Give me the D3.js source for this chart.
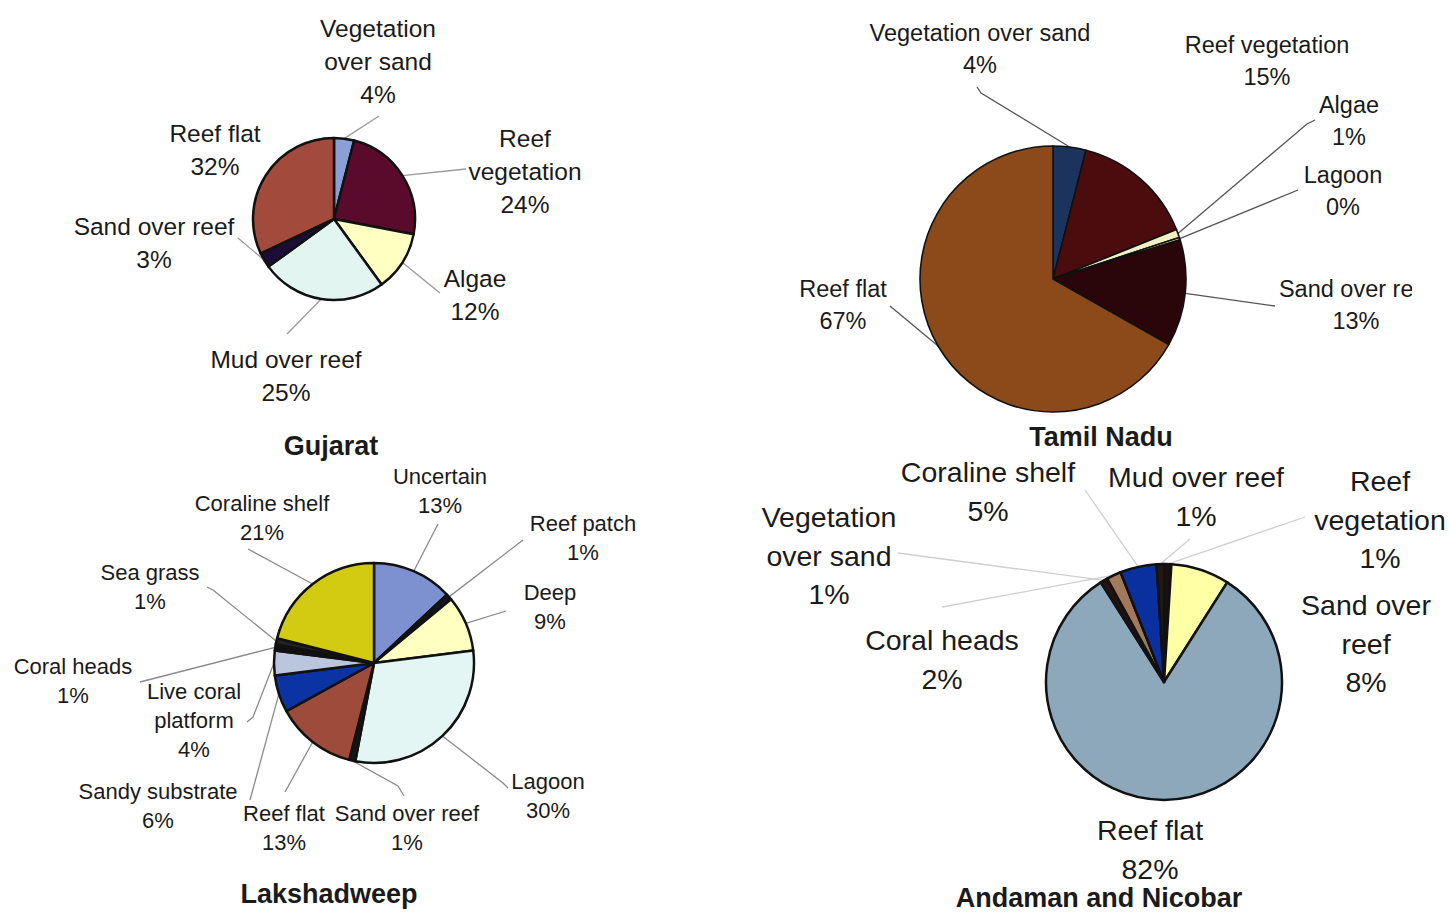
<!DOCTYPE html>
<html>
<head>
<meta charset="utf-8">
<script src="https://cdn.jsdelivr.net/npm/d3@7"></script>
<style>
  body { margin: 0; background: #fff; }
  svg text { font-family: "Liberation Sans", Arial, sans-serif; fill: #1a1a1a; }
</style>
</head>
<body>
<svg id="chart" width="1449" height="914"></svg>
<script>
// data (percent of reef area)
const gujaratCats = ["Vegetation over sand", "Reef vegetation", "Algae", "Mud over reef", "Sand over reef", "Reef flat"];
const gujaratVals = [4, 24, 12, 25, 3, 32];

const tamilCats = ["Vegetation over sand", "Reef vegetation", "Algae", "Lagoon", "Sand over reef", "Reef flat"];
const tamilVals = [4, 15, 1, 0.3, 13, 67];

const lakshCats = ["Uncertain", "Reef patch", "Deep", "Lagoon", "Sand over reef", "Reef flat",
  "Sandy substrate", "Live coral platform", "Coral heads", "Sea grass", "Coraline shelf"];
const lakshVals = [13, 1, 9, 30, 1, 13, 6, 4, 1, 1, 21];

const andamanCats = ["Reef vegetation", "Sand over reef", "Reef flat", "Vegetation over sand",
  "Coral heads", "Coraline shelf", "Mud over reef"];
const andamanVals = [1, 8, 82, 1, 2, 5, 1];

const titles = ["Gujarat", "Tamil Nadu", "Lakshadweep", "Andaman and Nicobar"];

// slice colours
const gujaratColors = ["#8b9ed6", "#5a0b2c", "#ffffc2", "#e2f5f1", "#1c0c38", "#a24b3c"];
const tamilColors = ["#1c335e", "#4a0c0c", "#f2efc4", "#f2efc4", "#2a0509", "#8c4a1a"];
const lakshColors = ["#7d90cf", "#151515", "#ffffc2", "#e4f6f3", "#151515", "#9e4b3b",
  "#0b33a3", "#b9c6de", "#111111", "#222222", "#d3cb12"];
const andamanColors = ["#1a1010", "#ffffa6", "#8da7bb", "#2a1010", "#a27a5a", "#0a30a0", "#241812"];

// label layout: text centre, wrapped name, leader bend points (pixels)
const gujaratLabels = [
  { x: 378, y: 28, wrap: ["Vegetation", "over sand"], lead: [[379, 116]] },
  { x: 525, y: 138, wrap: ["Reef", "vegetation"], lead: [[466, 169]] },
  { x: 475, y: 278, wrap: ["Algae"], lead: [[440, 293]] },
  { x: 286, y: 359, wrap: ["Mud over reef"], lead: [[287, 334]] },
  { x: 154, y: 226, wrap: ["Sand over reef"], lead: [[238, 238]] },
  { x: 215, y: 133, wrap: ["Reef flat"], lead: null }
];
const tamilLabels = [
  { x: 980, y: 33, wrap: ["Vegetation over sand"], lead: [[977, 87], [981, 93]] },
  { x: 1267, y: 45, wrap: ["Reef vegetation"], lead: null },
  { x: 1349, y: 105, wrap: ["Algae"], lead: [[1315, 120], [1307, 124]] },
  { x: 1343, y: 175, wrap: ["Lagoon"], lead: [[1298, 190]] },
  { x: 1356, y: 289, wrap: ["Sand over reef"], lead: [[1275, 306]], clip: 1412 },
  { x: 843, y: 289, wrap: ["Reef flat"], lead: [[890, 306]] }
];
const lakshLabels = [
  { x: 440, y: 476, wrap: ["Uncertain"], lead: [[438, 524]] },
  { x: 583, y: 523, wrap: ["Reef patch"], lead: [[523, 540]] },
  { x: 550, y: 592, wrap: ["Deep"], lead: [[506, 611]] },
  { x: 548, y: 781, wrap: ["Lagoon"], lead: [[508, 788], [503, 783]] },
  { x: 407, y: 813, wrap: ["Sand over reef"], lead: [[404, 796], [398, 786]] },
  { x: 284, y: 813, wrap: ["Reef flat"], lead: [[285, 792]] },
  { x: 158, y: 791, wrap: ["Sandy substrate"], lead: [[250, 800]] },
  { x: 194, y: 691, wrap: ["Live coral", "platform"], lead: [[247, 722], [253, 717]] },
  { x: 73, y: 666, wrap: ["Coral heads"], lead: [[140, 682]] },
  { x: 150, y: 572, wrap: ["Sea grass"], lead: [[207, 587], [213, 590]] },
  { x: 262, y: 503, wrap: ["Coraline shelf"], lead: [[248, 549]] }
];
const andamanLabels = [
  { x: 1380, y: 481, wrap: ["Reef", "vegetation"], lead: [[1305, 517]] },
  { x: 1366, y: 605, wrap: ["Sand over", "reef"], lead: null },
  { x: 1150, y: 830, wrap: ["Reef flat"], lead: null },
  { x: 829, y: 517, wrap: ["Vegetation", "over sand"], lead: [[898, 553]] },
  { x: 942, y: 640, wrap: ["Coral heads"], lead: [[942, 607]] },
  { x: 988, y: 472, wrap: ["Coraline shelf"], lead: [[1085, 490]] },
  { x: 1196, y: 477, wrap: ["Mud over reef"], lead: [[1190, 539]] }
];

const charts = [
  { cats: gujaratCats, vals: gujaratVals, colors: gujaratColors, labels: gujaratLabels,
    cx: 334, cy: 219, r: 81, fs: 24.5, lh: 33, sw: 2.5, lc: "#9a9a9a", tx: 331, ty: 455 },
  { cats: tamilCats, vals: tamilVals, colors: tamilColors, labels: tamilLabels,
    cx: 1053, cy: 279, r: 133, fs: 23.5, lh: 32, sw: 1.6, lc: "#555", tx: 1101, ty: 446 },
  { cats: lakshCats, vals: lakshVals, colors: lakshColors, labels: lakshLabels,
    cx: 374, cy: 663, r: 100, fs: 22, lh: 29, sw: 2.5, lc: "#8a8a8a", tx: 329, ty: 903 },
  { cats: andamanCats, vals: andamanVals, colors: andamanColors, labels: andamanLabels,
    cx: 1164, cy: 682, r: 118, fs: 28.5, lh: 38.5, sw: 2.5, lc: "#cfcfcf", tx: 1099, ty: 907 }
];

const svg = d3.select("#chart");
const pct = d3.format(".0f");

charts.forEach(function(c, ci) {
  const pie = d3.pie().sort(null).value(d => d)(c.vals);
  const arc = d3.arc().innerRadius(0).outerRadius(c.r);
  const g = svg.append("g");

  // leader lines first, pie drawn over their ends
  c.labels.forEach(function(lab, i) {
    if (!lab.lead) return;
    const p = pie[i];
    const a = (p.startAngle + p.endAngle) / 2;
    const pts = lab.lead.concat([[c.cx + c.r * Math.sin(a), c.cy - c.r * Math.cos(a)]]);
    g.append("path")
      .attr("d", d3.line()(pts))
      .attr("fill", "none")
      .attr("stroke", c.lc)
      .attr("stroke-width", 1.3);
  });

  g.append("g")
    .attr("transform", `translate(${c.cx},${c.cy})`)
    .selectAll("path")
    .data(pie)
    .enter().append("path")
    .attr("d", arc)
    .attr("fill", (d, i) => c.colors[i])
    .attr("stroke", "#111")
    .attr("stroke-width", c.sw)
    .attr("stroke-linejoin", "round");

  c.labels.forEach(function(lab, i) {
    const lines = lab.wrap.concat([pct(c.vals[i]) + "%"]);
    const t = g.append("text")
      .attr("text-anchor", "middle")
      .style("font-size", c.fs + "px");
    if (lab.clip) {
      const id = "clip" + ci + "_" + i;
      svg.append("clipPath").attr("id", id)
        .append("rect").attr("x", 0).attr("y", 0).attr("width", lab.clip).attr("height", 914);
      t.attr("clip-path", `url(#${id})`);
    }
    lines.forEach(function(s, k) {
      t.append("tspan")
        .attr("x", lab.x)
        .attr("y", lab.y + k * c.lh + c.fs * 0.36)
        .text(s);
    });
  });

  g.append("text")
    .attr("x", c.tx)
    .attr("y", c.ty)
    .attr("text-anchor", "middle")
    .style("font-size", "27px")
    .style("font-weight", "bold")
    .text(titles[ci]);
});
</script>
</body>
</html>
